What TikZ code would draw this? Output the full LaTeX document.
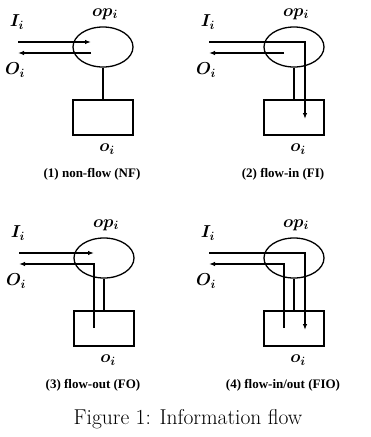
\documentclass[tikz,border=0pt]{standalone}
\usepackage{fontspec}
\newfontfamily\capfont{Liberation Serif}
\usetikzlibrary{arrows.meta,shapes.geometric}
\tikzset{
  ln/.style={line width=1.3pt},
  flow/.style={ln,-{Latex[length=6pt,width=4.5pt]}},
  opell/.style={draw,ln,ellipse,minimum width=60pt,minimum height=40pt,inner sep=0pt},
  objbox/.style={draw,ln,rectangle,minimum width=60pt,minimum height=35pt,inner sep=0pt},
  lab/.style={inner sep=0pt,font=\fontsize{18}{18}\selectfont\boldmath},
  sublab/.style={inner sep=0pt,font=\capfont\bfseries\fontsize{13}{14}\selectfont}
}
% #1 id, #2 cx, #3 cy, #4 caption
\newcommand\infopanel[4]{%
  \node[opell] (op#1) at (#2,#3) {};
  \node[objbox] (ob#1) at (#2,#3+70.5) {};
  \draw[ln] (op#1.south) -- (ob#1.north);
  \node[lab] (I#1) at (#2-86,#3-25) {$I_i$};
  \node[lab] (O#1) at (#2-88,#3+23) {$O_i$};
  \node[lab] (opl#1) at (#2+2,#3-33) {$op_i$};
  \node[lab] (ol#1) at (#2+4,#3+102) {$o_i$};
  \node[sublab] (cap#1) at (#2-11,#3+127) {#4};
  \coordinate (ia#1) at (#2-85,#3-5);
  \coordinate (oa#1) at (#2-85,#3+6);
}
\begin{document}
\begin{tikzpicture}[x=1pt,y=-1pt]
\useasboundingbox (0,0) rectangle (371,437);
% panel 1
\infopanel{1}{103}{47}{(1) non-flow (NF)}
\coordinate (ie1) at (91,42);
\coordinate (os1) at (91,53);
\draw[flow] (ia1) -- (ie1);
\draw[flow] (os1) -- (oa1);
% panel 2
\infopanel{2}{294}{47}{(2) flow-in (FI)}
\coordinate (ie2) at (305,119);
\coordinate (os2) at (284,53);
\draw[flow] (ia2) -| (ie2);
\draw[flow] (os2) -- (oa2);
% panel 3
\infopanel{3}{104}{258}{(3) flow-out (FO)}
\coordinate (ie3) at (94,253);
\coordinate (os3) at (94,328);
\draw[flow] (ia3) -- (ie3);
\draw[flow] (os3) |- (oa3);
% panel 4
\infopanel{4}{294}{258}{(4) flow-in/out (FIO)}
\coordinate (ie4) at (305,330);
\coordinate (os4) at (284,328);
\draw[flow] (ia4) -| (ie4);
\draw[flow] (os4) |- (oa4);
% figure caption
\node[inner sep=0pt,font=\fontsize{21.5}{23}\selectfont] (fig) at (188,419) {Figure 1: Information flow};
\end{tikzpicture}
\end{document}
